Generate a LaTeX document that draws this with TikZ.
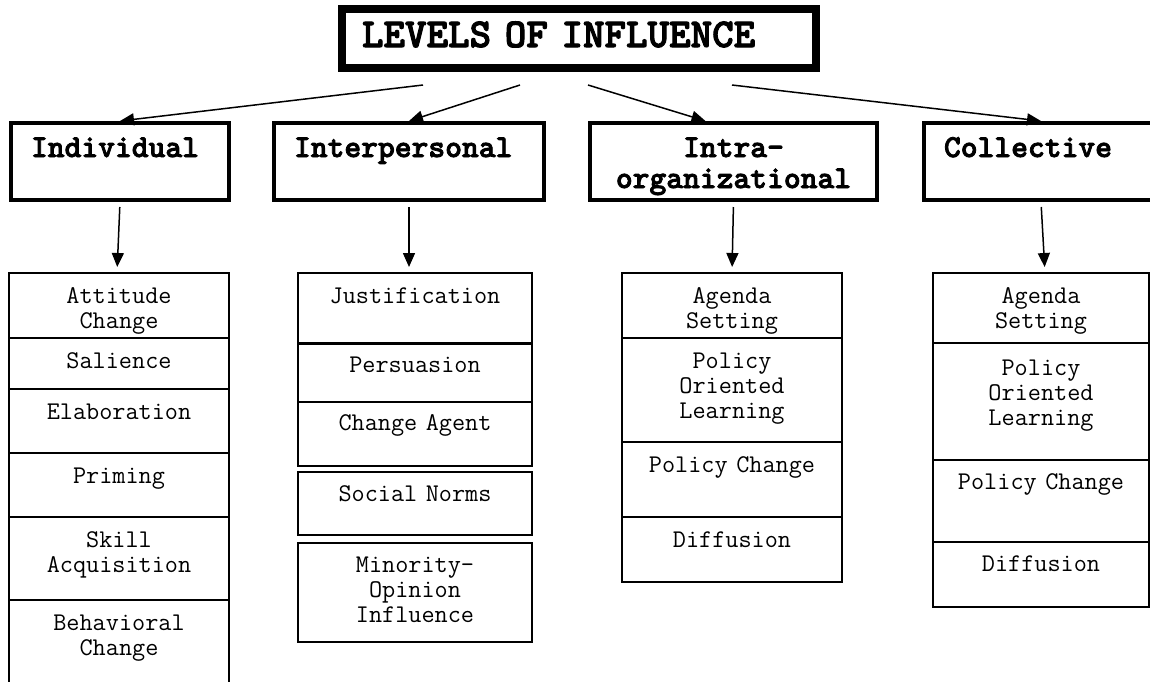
\documentclass[tikz,border=0pt]{standalone}
\usepackage{fontspec}
\newfontfamily\hdfont{lmmonolt10-bold.otf}[FakeBold=2.5]
\usetikzlibrary{arrows.meta}

\begin{document}
\begin{tikzpicture}[x=1pt,y=-1pt,>={Triangle[length=14pt,width=12pt]},
  conn/.style={->,line width=1.5pt},
  down/.style={shorten <=5pt,shorten >=6pt},
  head/.style={draw,line width=8pt,anchor=north west,inner xsep=20pt,inner ysep=0pt,align=left,
    text width=434pt,text height=38pt,text depth=21pt,font=\hdfont\fontsize{41}{44}\selectfont},
  level/.style={draw,line width=4pt,anchor=north west,inner xsep=20pt,inner ysep=0pt,align=left,
    text height=34pt,text depth=43pt,font=\hdfont\fontsize{32}{31}\selectfont},
  cell/.style={draw,line width=1.6pt,anchor=north,outer sep=0pt,inner xsep=0pt,inner ysep=0pt,
    align=center,text height=30pt,font=\ttfamily\fontsize{25.5}{25}\selectfont}]

\useasboundingbox (0,0) rectangle (1150,681);

\node[head] (title) at (338,5) {LEVELS OF INFLUENCE};

\node[level,text width=178pt] (ind)   at (9,121)   {Individual};
\node[level,text width=230pt] (inter) at (272,121) {Interpersonal};
\node[level,text width=247pt,align=center] (intra) at (588,121) {Intra-\\organizational};
\node[level,text width=194pt] (coll)  at (922,121) {Collective};

\node[cell,text width=220pt,text depth=35pt] (ind1) at (119,273) {Attitude\\Change};
\node[cell,text width=220pt,text depth=21pt] (ind2) at (119,338) {Salience};
\node[cell,text width=220pt,text depth=34pt] (ind3) at (119,389) {Elaboration};
\node[cell,text width=220pt,text depth=34pt] (ind4) at (119,453) {Priming};
\node[cell,text width=220pt,text depth=53pt] (ind5) at (119,517) {Skill\\Acquisition};
\node[cell,text width=220pt,text depth=70pt] (ind6) at (119,600) {Behavioral\\Change};

\node[cell,line width=2.2pt,text width=234pt,text depth=40pt] (inter1) at (415,273) {Justification};
\node[cell,line width=2.2pt,text width=234pt,text height=28pt,text depth=30pt] (inter2) at (415,344) {Persuasion};
\node[cell,line width=2.2pt,text width=234pt,text height=28pt,text depth=36pt] (inter3) at (415,402) {Change Agent};
\node[cell,line width=2.2pt,text width=234pt,text height=29pt,text depth=34pt] (inter4) at (415,472) {Social Norms};
\node[cell,line width=2.2pt,text width=234pt,text height=29pt,text depth=70pt] (inter5) at (415,543) {Minority-\\Opinion\\Influence};

\node[cell,text width=220pt,text depth=35pt] (intra1) at (732,273) {Agenda\\Setting};
\node[cell,text width=220pt,text depth=74pt] (intra2) at (732,338) {Policy\\Oriented\\Learning};
\node[cell,text width=220pt,text depth=45pt] (intra3) at (732,442) {Policy Change};
\node[cell,text width=220pt,text depth=35pt] (intra4) at (732,517) {Diffusion};

\node[cell,text width=216pt,text depth=40pt] (coll1) at (1041,273) {Agenda\\Setting};
\node[cell,text width=216pt,text height=32pt,text depth=85pt] (coll2) at (1041,343) {Policy\\Oriented\\Learning};
\node[cell,text width=216pt,text height=29pt,text depth=53pt] (coll3) at (1041,460) {Policy Change};
\node[cell,text width=216pt,text height=29pt,text depth=36pt] (coll4) at (1041,542) {Diffusion};

\path[conn] ([xshift=-156pt,yshift=-13pt]title.south) edge (ind.north)
            ([xshift=-59pt,yshift=-13pt]title.south)  edge (inter.north)
            ([xshift=9pt,yshift=-13pt]title.south)    edge ([xshift=-28pt]intra.north)
            ([xshift=153pt,yshift=-13pt]title.south)  edge (coll.north);

\path[conn] (ind.south)   edge[down] ([xshift=-2pt]ind1.north)
            (inter.south) edge[down] ([xshift=-6pt]inter1.north)
            (intra.south) edge[down] (intra1.north)
            (coll.south)  edge[down] ([xshift=4pt]coll1.north);
\end{tikzpicture}
\end{document}
